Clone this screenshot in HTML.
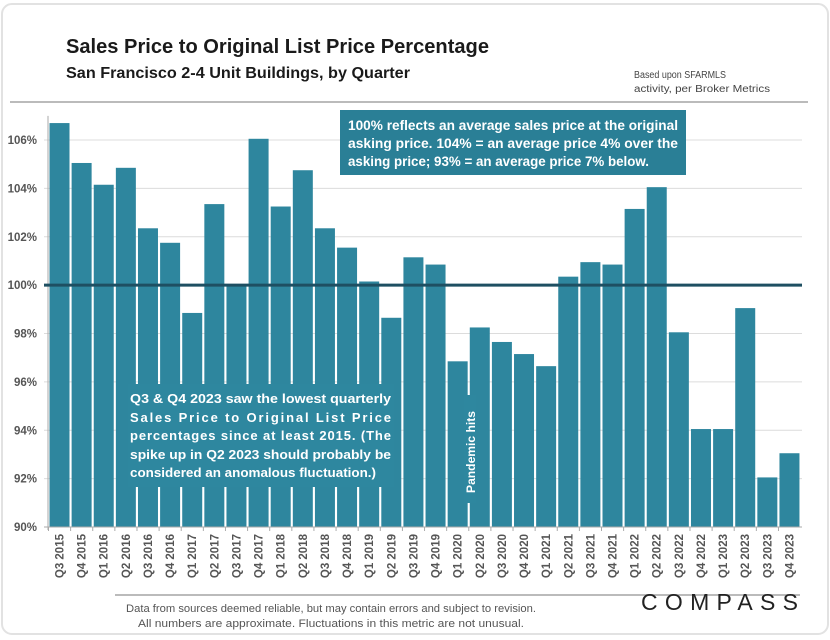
<!DOCTYPE html>
<html><head><meta charset="utf-8"><style>
html,body{margin:0;padding:0;background:#fff;width:830px;height:640px;overflow:hidden}
svg{display:block}
text{font-family:"Liberation Sans",sans-serif}
</style></head><body>
<svg id="chart" width="830" height="640" xmlns="http://www.w3.org/2000/svg">
<rect x="2" y="4" width="826" height="630" rx="10" fill="#fff" stroke="#e2e2e2" stroke-width="2"/>
<text x="66" y="53" font-size="20" font-weight="bold" fill="#1a1a1a" textLength="423" lengthAdjust="spacingAndGlyphs">Sales Price to Original List Price Percentage</text>
<text x="66" y="78" font-size="15.5" font-weight="bold" fill="#1a1a1a" textLength="344" lengthAdjust="spacingAndGlyphs">San Francisco 2-4 Unit Buildings, by Quarter</text>
<text x="634" y="78" font-size="10" fill="#444" textLength="92" lengthAdjust="spacingAndGlyphs">Based upon SFARMLS</text>
<text x="634" y="92" font-size="10" fill="#444" textLength="136" lengthAdjust="spacingAndGlyphs">activity, per Broker Metrics</text>
<line x1="10" y1="102" x2="808" y2="102" stroke="#bbb" stroke-width="2"/>
<g id="grid"></g><g id="bars"></g><g id="axes"></g>
<line id="ref" x1="44" x2="802" stroke="#1e4f62" stroke-width="3"/>
<rect x="340" y="110" width="346" height="65" fill="#2a7f96"/>
<g font-size="13.5" fill="#fff" font-weight="bold">
<text x="348" y="130" textLength="330" lengthAdjust="spacingAndGlyphs">100% reflects an average sales price at the original</text>
<text x="348" y="148" textLength="330" lengthAdjust="spacingAndGlyphs">asking price. 104% = an average price 4% over the</text>
<text x="348" y="166" textLength="301" lengthAdjust="spacingAndGlyphs">asking price; 93% = an average price 7% below.</text>
</g>
<rect x="128" y="384" width="266" height="103" fill="#2e879f"/>
<g font-size="13" fill="#fff" font-weight="bold">
<text x="130" y="403" textLength="261" lengthAdjust="spacingAndGlyphs">Q3 &amp; Q4 2023 saw the lowest quarterly</text>
<text x="130" y="422" textLength="261" lengthAdjust="spacing">Sales Price to Original List Price</text>
<text x="130" y="440" textLength="261" lengthAdjust="spacing">percentages since at least 2015. (The</text>
<text x="130" y="459" textLength="261" lengthAdjust="spacingAndGlyphs">spike up in Q2 2023 should probably be</text>
<text x="130" y="477" textLength="246" lengthAdjust="spacingAndGlyphs">considered an anomalous fluctuation.)</text>
</g>
<rect x="464" y="395" width="12" height="108" fill="#2e879f"/>
<text transform="translate(475,493) rotate(-90)" font-size="12" font-weight="bold" fill="#fff" textLength="82" lengthAdjust="spacingAndGlyphs">Pandemic hits</text>
<line x1="115" y1="595" x2="800" y2="595" stroke="#bbb" stroke-width="2"/>
<text x="331" y="612" text-anchor="middle" font-size="11" fill="#555" textLength="410" lengthAdjust="spacingAndGlyphs">Data from sources deemed reliable, but may contain errors and subject to revision.</text>
<text x="331" y="627" text-anchor="middle" font-size="11" fill="#555" textLength="386" lengthAdjust="spacingAndGlyphs">All numbers are approximate. Fluctuations in this metric are not unusual.</text>
<text x="641" y="610" font-size="23" fill="#222" textLength="157" lengthAdjust="spacing">COMPASS</text>
</svg>
<script>
const categories=["Q3 2015","Q4 2015","Q1 2016","Q2 2016","Q3 2016","Q4 2016","Q1 2017","Q2 2017","Q3 2017","Q4 2017","Q1 2018","Q2 2018","Q3 2018","Q4 2018","Q1 2019","Q2 2019","Q3 2019","Q4 2019","Q1 2020","Q2 2020","Q3 2020","Q4 2020","Q1 2021","Q2 2021","Q3 2021","Q4 2021","Q1 2022","Q2 2022","Q3 2022","Q4 2022","Q1 2023","Q2 2023","Q3 2023","Q4 2023"];
const values=[106.7,105.05,104.15,104.85,102.35,101.75,98.85,103.35,100.0,106.05,103.25,104.75,102.35,101.55,100.15,98.65,101.15,100.85,96.85,98.25,97.65,97.15,96.65,100.35,100.95,100.85,103.15,104.05,98.05,94.05,94.05,99.05,92.05,93.05];
const yTicks=[90,92,94,96,98,100,102,104,106];
const yMin=90,yMax=106,y0=527,y1=140,left=49,step=22.12,bw=20;
const y=v=>y0-(v-yMin)*(y0-y1)/(yMax-yMin);
const x=i=>left+i*step;
const NS="http://www.w3.org/2000/svg";
function mk(t,a,p){const e=document.createElementNS(NS,t);for(const k in a)e.setAttribute(k,a[k]);p.appendChild(e);return e;}
const grid=document.getElementById('grid'),bars=document.getElementById('bars'),axes=document.getElementById('axes');
yTicks.forEach(v=>{
 const l=mk('line',{x1:44,x2:802,y1:y(v),y2:y(v),stroke:'#dcdcdc','stroke-width':1},grid);
 
 
 const t=mk('text',{x:37,y:y(v)+4,'text-anchor':'end','font-size':11.5,'font-weight':'bold',fill:'#555'},axes);
 t.textContent=v+'%';
 
 
});
mk('line',{x1:48,x2:48,y1:y(107),y2:y0+3,stroke:'#aaa'},axes);
mk('line',{x1:44,x2:802,y1:y0,y2:y0,stroke:'#aaa'},axes);
values.forEach((v,i)=>{
 const r=mk('rect',{x:x(i)+0.5,y:y(v),width:bw,height:y0-y(v),fill:'#2e869e'},bars);
 
 
 const cx=x(i)+bw/2+0.5;
 const t=mk('text',{transform:`translate(${cx+4},${y0+7}) rotate(-90)`,'text-anchor':'end','font-size':11.5,'font-weight':'bold',fill:'#555'},axes);
 t.textContent=categories[i];
 
 
 mk('line',{x1:x(i)-0.5,x2:x(i)-0.5,y1:y0,y2:y0+4,stroke:'#aaa'},axes);
});
const ref=document.getElementById('ref');ref.setAttribute('y1',y(100));ref.setAttribute('y2',y(100));
</script>
</body></html>
